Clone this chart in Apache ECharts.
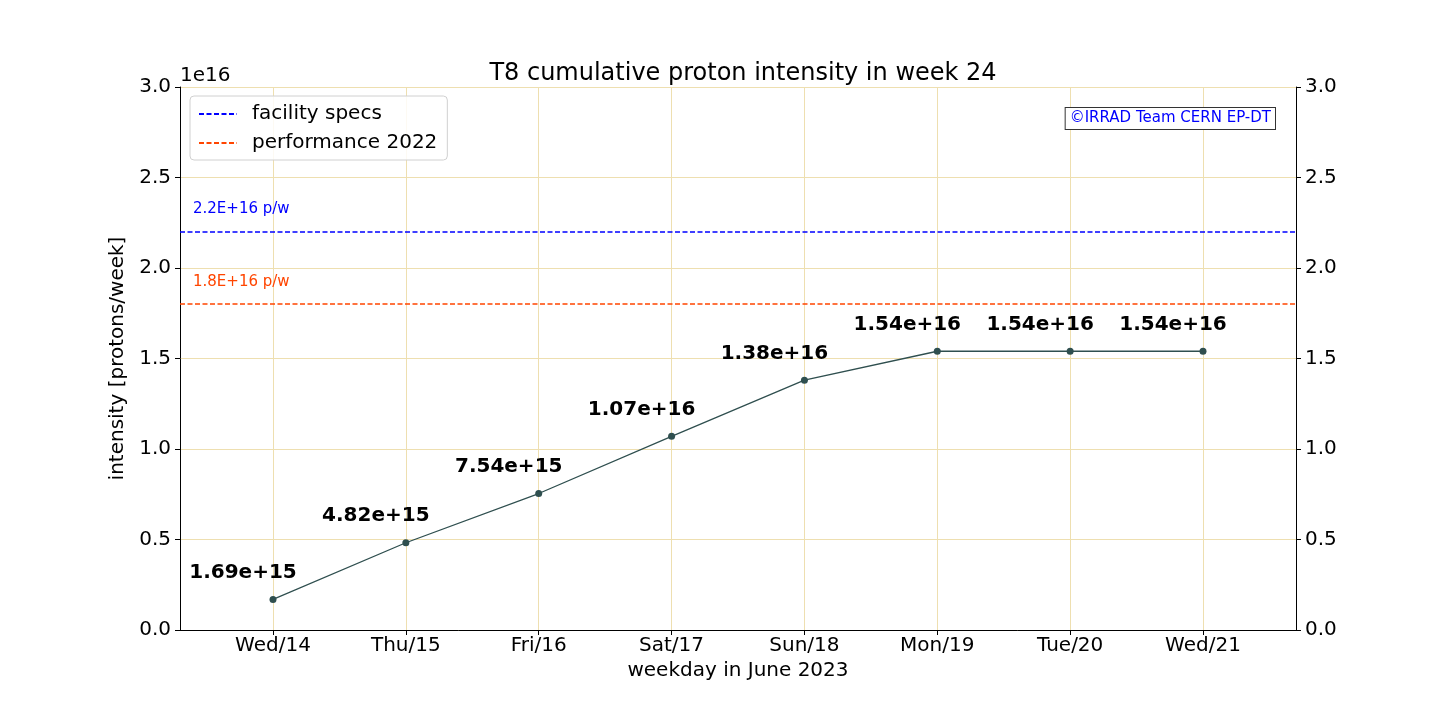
<!DOCTYPE html>
<html>
<head>
<meta charset="utf-8">
<script src="https://cdn.jsdelivr.net/npm/echarts@6/dist/echarts.min.js"></script>
<style>
  html, body { margin: 0; padding: 0; background: #fff; }
  #chart { width: 1440px; height: 720px; }
</style>
</head>
<body>
<div id="chart"></div>
<script>
// weekdays on the x axis
const days = ['Wed/14', 'Thu/15', 'Fri/16', 'Sat/17', 'Sun/18', 'Mon/19', 'Tue/20', 'Wed/21'];
// cumulative protons per week
const intensity = [1.69e15, 4.82e15, 7.54e15, 1.07e16, 1.38e16, 1.54e16, 1.54e16, 1.54e16];
// reference levels
const facilitySpecs = 2.2e16;
const perf2022 = 1.8e16;
const yTicks = [0, 0.5e16, 1.0e16, 1.5e16, 2.0e16, 2.5e16, 3.0e16];

const font = 'DejaVu Sans';
const gridColor = '#eedfb0';
const dayIdx = days.map((d, i) => i);

const chart = echarts.init(document.getElementById('chart'));

const yAxisBase = {
  type: 'value',
  min: yTicks[0],
  max: yTicks[yTicks.length - 1],
  interval: yTicks[1] - yTicks[0],
  axisLine: { show: true, onZero: false, lineStyle: { color: '#000', width: 1 } },
  axisTick: { show: true, length: 5, lineStyle: { color: '#000' } },
  axisLabel: {
    color: '#000', fontFamily: font, fontSize: 20, margin: 9,
    formatter: v => (v / 1e16).toFixed(1)
  }
};

let option = {
  animation: false,
  textStyle: { fontFamily: font },
  title: {
    text: 'T8 cumulative proton intensity in week 24',
    left: 738, top: 57, textAlign: 'center',
    textStyle: { fontFamily: font, fontSize: 24, fontWeight: 'normal', color: '#000' }
  },
  grid: { left: 180, right: 144, top: 87, bottom: 90, containLabel: false },
  legend: {
    left: 190, top: 96, z: 20,
    orient: 'vertical',
    data: ['facility specs', 'performance 2022'],
    itemWidth: 38, itemHeight: 10, itemGap: 9,
    padding: [8, 10, 7, 8],
    borderColor: '#d0d0d0', borderWidth: 1, borderRadius: 4,
    backgroundColor: 'rgba(255,255,255,0.85)',
    itemStyle: { opacity: 0 },
    textStyle: { fontFamily: font, fontSize: 20, color: '#000', padding: [0, 0, 0, 10] }
  },
  xAxis: {
    type: 'value',
    min: -0.7, max: 7.7,
    name: 'weekday in June 2023',
    nameLocation: 'middle', nameGap: 28,
    nameTextStyle: { fontFamily: font, fontSize: 20, color: '#000' },
    axisLine: { show: true, onZero: false, lineStyle: { color: '#000' } },
    axisTick: { show: true, length: 5, customValues: dayIdx, lineStyle: { color: '#000' } },
    axisLabel: {
      color: '#000', fontFamily: font, fontSize: 20, margin: 6,
      customValues: dayIdx,
      formatter: v => days[Math.round(v)]
    },
    splitLine: { show: false }
  },
  yAxis: [
    Object.assign({}, yAxisBase, {
      position: 'left',
      name: 'intensity [protons/week]',
      nameLocation: 'middle', nameGap: 44, nameRotate: 90,
      nameTextStyle: { fontFamily: font, fontSize: 20, color: '#000' },
      splitLine: { show: true, lineStyle: { color: gridColor, width: 1 } }
    }),
    Object.assign({}, yAxisBase, {
      position: 'right',
      splitLine: { show: false }
    })
  ],
  graphic: [
    {
      type: 'text', left: 180, top: 66,
      style: { text: '1e16', font: '20px "DejaVu Sans"', fill: '#000' }
    },
    {
      type: 'text', right: 164, top: 107, z: 10,
      style: {
        text: '©IRRAD Team CERN EP-DT', font: '15px "DejaVu Sans"', fill: '#0000ff',
        backgroundColor: '#fff', borderColor: '#333', borderWidth: 1, padding: [3, 4, 3, 4]
      }
    }
  ],
  series: [
    {
      name: 'grid-x',
      type: 'line',
      data: [],
      silent: true,
      z: 1,
      markLine: {
        silent: true, symbol: 'none', label: { show: false },
        lineStyle: { color: gridColor, type: 'solid', width: 1 },
        data: dayIdx.map(i => ({ xAxis: i }))
      }
    },
    {
      name: 'facility specs',
      type: 'line',
      data: [],
      symbol: 'none',
      color: '#0000ff',
      lineStyle: { color: '#0000ff', type: [5, 2.5], width: 1.5 },
      markLine: {
        silent: true, symbol: 'none',
        lineStyle: { color: '#0000ff', type: [5, 2.5], width: 1.5 },
        label: {
          show: true, position: 'insideStartTop', distance: [13, 15],
          formatter: '2.2E+16 p/w', color: '#0000ff', fontFamily: font, fontSize: 15
        },
        data: [{ yAxis: facilitySpecs }]
      }
    },
    {
      name: 'performance 2022',
      type: 'line',
      data: [],
      symbol: 'none',
      color: '#ff4500',
      lineStyle: { color: '#ff4500', type: [5, 2.5], width: 1.5 },
      markLine: {
        silent: true, symbol: 'none',
        lineStyle: { color: '#ff4500', type: [5, 2.5], width: 1.5 },
        label: {
          show: true, position: 'insideStartTop', distance: [13, 15],
          formatter: '1.8E+16 p/w', color: '#ff4500', fontFamily: font, fontSize: 15
        },
        data: [{ yAxis: perf2022 }]
      }
    },
    {
      name: 'intensity',
      type: 'line',
      data: intensity.map((v, i) => [i, v]),
      symbol: 'circle',
      symbolSize: 7,
      color: '#2f4f4f',
      lineStyle: { color: '#2f4f4f', width: 1.3 },
      itemStyle: { color: '#2f4f4f' },
      z: 5,
      label: {
        show: true, position: 'top', offset: [-30, -8],
        color: '#000', fontFamily: font, fontSize: 20, fontWeight: 'bold',
        formatter: p => p.value[1].toExponential(2)
      }
    }
  ]
};

chart.setOption(option);
</script>
</body>
</html>
